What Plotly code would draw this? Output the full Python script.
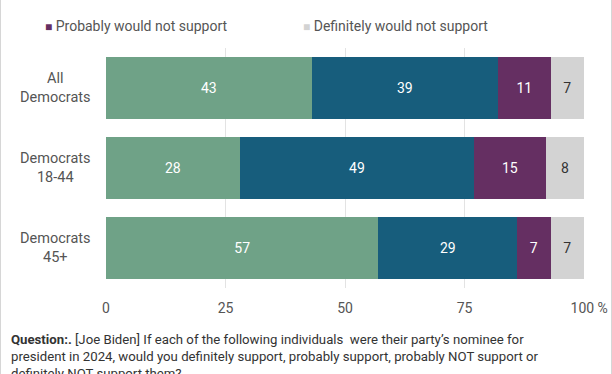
import plotly.graph_objects as go

categories = ["All<br>Democrats", "Democrats<br>18-44", "Democrats<br>45+"]
series_names = ["Definitely would support", "Probably would support",
                "Probably would not support", "Definitely would not support"]
values = {
    "Definitely would support": [43, 28, 57],
    "Probably would support": [39, 49, 29],
    "Probably would not support": [11, 15, 7],
    "Definitely would not support": [7, 8, 7],
}
colors = ["#6fa287", "#175d7c", "#652f62", "#d3d3d3"]
text_colors = ["#ffffff", "#ffffff", "#ffffff", "#333333"]
legend_shown = ["Probably would not support", "Definitely would not support"]
tick_vals = [0, 25, 50, 75, 100]
tick_text = ["0", "25", "50", "75", "\u00a0\u00a0\u00a0100 %"]

font = "Roboto"
fig = go.Figure()
for name, c, tc in zip(series_names, colors, text_colors):
    fig.add_trace(go.Bar(
        y=categories, x=values[name], name=name, orientation="h",
        marker=dict(color=c, line=dict(width=0)),
        text=values[name], textposition="inside", insidetextanchor="middle",
        textfont=dict(family=font, size=14, color=tc),
        showlegend=False, hoverinfo="skip",
    ))

# category labels (centered, two lines)
for cat in categories:
    fig.add_annotation(x=(55 - 106) / 478, xref="paper", y=cat, yref="y", text=cat,
                       showarrow=False, align="center", xanchor="center",
                       font=dict(family=font, size=14.5, color="#555555"))

# legend (visible part)
leg_px = [43, 301]
for name, px in zip(legend_shown, leg_px):
    c = colors[series_names.index(name)]
    fig.add_annotation(x=(px - 106) / 478, xref="paper", y=(288 - 26) / 240, yref="paper",
                       yanchor="middle", xanchor="left", showarrow=False,
                       text=f"<span style='color:{c};font-size:12px'>■</span> {name}",
                       font=dict(family=font, size=14, color="#555555"))

fig.add_annotation(
    x=(9 - 106) / 478, xref="paper", y=-(330 - 288) / 240, yref="paper", xanchor="left", yanchor="top",
    showarrow=False, align="left",
    text="<b>Question:.</b> [Joe Biden] If each of the following individuals  were their party’s nominee for<br>"
         "president in 2024, would you definitely support, probably support, probably NOT support or<br>"
         "definitely NOT support them?",
    font=dict(family=font, size=13.2, color="#333333"))

fig.update_layout(
    width=612, height=374, barmode="stack", bargap=0.225,
    margin=dict(l=106, r=28, t=48, b=86),
    paper_bgcolor="white", plot_bgcolor="white",
    font=dict(family=font, size=14, color="#555555"),
    xaxis=dict(range=[0, 100], tickvals=tick_vals, ticktext=tick_text,
               showgrid=True, gridcolor="#e3e3e3", gridwidth=1, zeroline=False,
               ticks="", ticklabelstandoff=10,
               tickfont=dict(family=font, size=14, color="#555555"),
               automargin=False, fixedrange=True),
    yaxis=dict(showticklabels=False, showgrid=False, automargin=False,
               zeroline=False, fixedrange=True, range=[2.5, -0.5]),
    showlegend=False,
)
fig.write_html(
    "out.html", config={"displayModeBar": False},
    post_script=("document.body.style.margin='0';document.body.style.overflow='hidden';"
                 "var f=document.createElement('div');"
                 "f.style.cssText='position:fixed;left:0;top:0;width:612px;height:374px;"
                 "box-sizing:border-box;border-left:1px solid #d6d6d6;border-right:1px solid #d6d6d6;"
                 "pointer-events:none;z-index:10;';"
                 "document.body.appendChild(f);"))
